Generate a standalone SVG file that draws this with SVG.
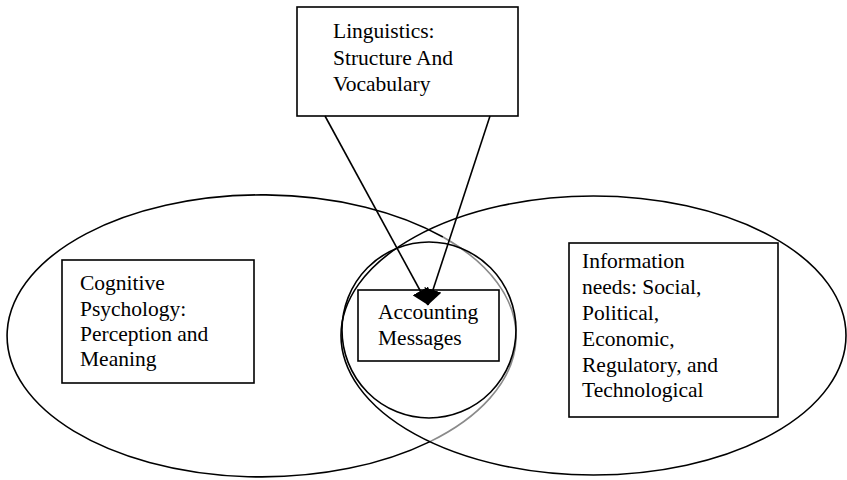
<svg xmlns="http://www.w3.org/2000/svg" width="847" height="480" viewBox="0 0 847 480">
  <style>
    .area { fill: none; stroke: #000; stroke-width: 1.6; }
    .soft { fill: none; stroke: #8a8a8a; stroke-width: 1.6; }
    .box { fill: #fff; stroke: #000; stroke-width: 1.6; }
    .label { font-family: "Liberation Serif", "Times New Roman", serif; font-size: 21.5px; fill: #000; }
    .link { stroke: #000; stroke-width: 1.6; fill: none; }
  </style>
  <defs>
    <marker id="head" viewBox="0 0 16 18" refX="16" refY="9" markerWidth="16" markerHeight="18" markerUnits="userSpaceOnUse" orient="auto">
      <path d="M0,0 L16,9 L0,18 z" fill="#000"/>
    </marker>
  </defs>

  <!-- overlapping domains -->
  <g id="domain-left">
    <path class="area" d="M430,441.6 A254.5,141 0 1 1 443,237"/>
    <path class="soft" d="M443,237 A254.5,141 0 0 1 430,441.6"/>
  </g>
  <g id="domain-right">
    <ellipse class="area" cx="593.5" cy="335.5" rx="252.5" ry="139.5"/>
  </g>
  <g id="core">
    <ellipse class="area" cx="429" cy="330" rx="87" ry="88"/>
  </g>

  <g id="linguistics">
    <rect class="box" x="297" y="7" width="221" height="109"/>
    <text class="label" x="333" y="38">Linguistics:</text>
    <text class="label" x="333" y="65">Structure And</text>
    <text class="label" x="333" y="91">Vocabulary</text>
  </g>

  <g id="cognitive">
    <rect class="box" x="62" y="260" width="192" height="123"/>
    <text class="label" x="80" y="290">Cognitive</text>
    <text class="label" x="80" y="316">Psychology:</text>
    <text class="label" x="80" y="341">Perception and</text>
    <text class="label" x="80" y="366">Meaning</text>
  </g>

  <g id="information">
    <rect class="box" x="569" y="243" width="209" height="174"/>
    <text class="label" x="582" y="268">Information</text>
    <text class="label" x="582" y="294">needs: Social,</text>
    <text class="label" x="582" y="320">Political,</text>
    <text class="label" x="582" y="346">Economic,</text>
    <text class="label" x="582" y="372">Regulatory, and</text>
    <text class="label" x="582" y="397">Technological</text>
  </g>

  <g id="accounting">
    <rect class="box" x="358" y="290" width="141" height="71"/>
    <text class="label" x="378" y="319">Accounting</text>
    <text class="label" x="378" y="345">Messages</text>
  </g>

  <g id="connectors">
    <line class="link" x1="325" y1="116" x2="428" y2="305" marker-end="url(#head)"/>
    <line class="link" x1="490" y1="116" x2="428" y2="305" marker-end="url(#head)"/>
  </g>
</svg>
